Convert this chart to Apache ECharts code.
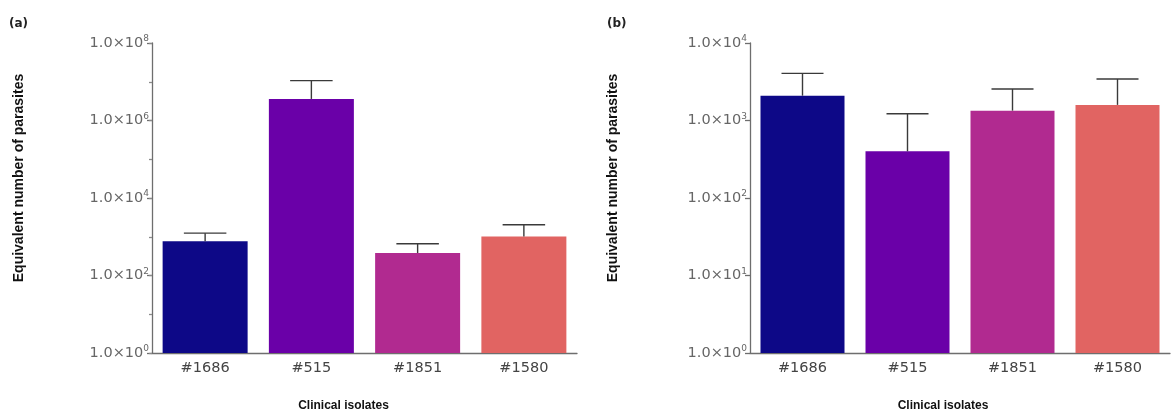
<!DOCTYPE html>
<html>
<head>
<meta charset="utf-8">
<script src="https://cdn.jsdelivr.net/npm/echarts@6/dist/echarts.min.js"></script>
<style>
  html, body { margin: 0; padding: 0; background: #ffffff; }
  #chart { width: 1173px; height: 417px; }
</style>
</head>
<body>
<div id="chart"></div>
<script>
// Clinical isolates shown in both panels
const isolates = ['#1686', '#515', '#1851', '#1580'];

// Panel (a): mean and upper error value per isolate
const meanA = [760, 3600000, 380, 1020];
const upperA = [1240, 10700000, 660, 2040];

// Panel (b): mean and upper error value per isolate
const meanB = [2090, 400, 1340, 1590];
const upperB = [4060, 1220, 2550, 3430];

const barColors = ['#0d0887', '#6a00a8', '#b12a90', '#e16462'];

const tickFont = 'DejaVu Sans, sans-serif';
const titleFont = 'Liberation Sans, Arial, sans-serif';

function sciLabel(v) {
  const e = Math.round(Math.log10(v));
  return '1.0×10{s|' + e + '}';
}

const labelRich = {
  s: { fontSize: 9, fontFamily: tickFont, color: '#666', padding: [0, 0, 8, 0] }
};

function majorY(gridIndex, max, interval) {
  return {
    type: 'log', logBase: 10, gridIndex: gridIndex, position: 'left',
    min: 1, max: max, interval: interval,
    axisLine: { show: true, lineStyle: { color: '#6e6e6e', width: 1.3 } },
    axisTick: { show: true, length: 5, lineStyle: { color: '#6e6e6e', width: 1.3 } },
    axisLabel: {
      formatter: sciLabel, rich: labelRich, margin: 3,
      color: '#666', fontSize: 14.5, fontFamily: tickFont
    },
    splitLine: { show: false }
  };
}

// short ticks at every decade, drawn under the labelled ones
function minorY(gridIndex, max) {
  return {
    type: 'log', logBase: 10, gridIndex: gridIndex, position: 'left', offset: 0,
    min: 1, max: max, interval: 1,
    axisLine: { show: false },
    axisTick: { show: true, length: 3, lineStyle: { color: '#8a8a8a', width: 1.3 } },
    axisLabel: { show: false },
    splitLine: { show: false }
  };
}

function catX(gridIndex, padRight) {
  return {
    type: 'category', gridIndex: gridIndex, data: isolates,
    axisLine: { show: true, lineStyle: { color: '#6e6e6e', width: 1.3 } },
    axisTick: { show: false },
    axisLabel: { color: '#444', fontSize: 14.5, fontFamily: tickFont, margin: 8 },
    name: 'Clinical isolates', nameLocation: 'middle', nameGap: 47,
    nameTextStyle: {
      fontFamily: titleFont, fontWeight: 'bold', fontSize: 12, color: '#111',
      padding: [0, padRight, 0, 0]
    }
  };
}

function barSeries(xi, yi, means) {
  return {
    type: 'bar', xAxisIndex: xi, yAxisIndex: yi,
    barCategoryGap: '20%',
    data: means.map((v, i) => ({ value: v, itemStyle: { color: barColors[i] } })),
    silent: true
  };
}

function errorSeries(xi, yi, means, uppers) {
  return {
    type: 'custom', xAxisIndex: xi, yAxisIndex: yi, z: 5, silent: true,
    data: means.map((v, i) => [i, v, uppers[i]]),
    renderItem: function (params, api) {
      const idx = api.value(0);
      const base = api.coord([idx, api.value(1)]);
      const top = api.coord([idx, api.value(2)]);
      const band = api.coord([1, api.value(1)])[0] - api.coord([0, api.value(1)])[0];
      const half = band * 0.2;
      const style = { stroke: '#3a3a3a', lineWidth: 1.4 };
      return {
        type: 'group',
        children: [
          { type: 'line', shape: { x1: base[0], y1: base[1], x2: top[0], y2: top[1] }, style: style },
          { type: 'line', shape: { x1: top[0] - half, y1: top[1], x2: top[0] + half, y2: top[1] }, style: style }
        ]
      };
    }
  };
}

const chart = echarts.init(document.getElementById('chart'), null, { renderer: 'canvas' });

chart.setOption({
  backgroundColor: '#ffffff',
  animation: false,
  grid: [
    { left: 152, top: 43, width: 425, height: 313 },
    { left: 750, top: 43, width: 420, height: 313 }
  ],
  xAxis: [catX(0, 42), catX(1, 34)],
  yAxis: [majorY(0, 1e8, 2), minorY(0, 1e8), majorY(1, 1e4, 1)],
  series: [
    barSeries(0, 0, meanA),
    errorSeries(0, 0, meanA, upperA),
    barSeries(1, 2, meanB),
    errorSeries(1, 2, meanB, upperB)
  ],
  graphic: [
    { type: 'text', left: 9, top: 18, style: { text: '(a)', font: 'bold 12px DejaVu Sans', fill: '#222' } },
    { type: 'text', left: 607, top: 18, style: { text: '(b)', font: 'bold 12px DejaVu Sans', fill: '#222' } },
    {
      type: 'text', x: 19, y: 178, rotation: Math.PI / 2,
      style: { text: 'Equivalent number of parasites', font: 'bold 14px Liberation Sans', fill: '#111', align: 'center', verticalAlign: 'middle' }
    },
    {
      type: 'text', x: 613, y: 178, rotation: Math.PI / 2,
      style: { text: 'Equivalent number of parasites', font: 'bold 14px Liberation Sans', fill: '#111', align: 'center', verticalAlign: 'middle' }
    }
  ]
});
</script>
</body>
</html>
